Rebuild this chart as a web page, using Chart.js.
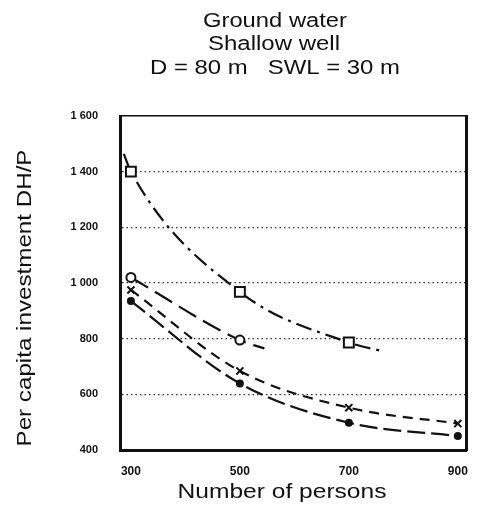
<!DOCTYPE html>
<html>
<head>
<meta charset="utf-8">
<script src="https://cdn.jsdelivr.net/npm/chart.js@4"></script>
<style>
  body { margin: 0; background: #fff; }
  #wrap { width: 477px; height: 513px; }
</style>
</head>
<body>
<div id="wrap"><canvas id="chart"></canvas></div>
<script>
// x ticks (number of persons)
const persons = [300, 500, 700, 900];

// curves; ends of the curves have no marker
const squareX = [287, 300, 500, 700, 762];
const squareY = [1464, 1400, 968, 786, 755];
const squareMark = [0, 1, 1, 1, 0];

const circleX = [300, 500, 545];
const circleY = [1020, 795, 765];
const circleMark = [1, 1, 0];

const crossX = [300, 500, 700, 900];
const crossY = [975, 684, 552, 495];

const dotX = [300, 500, 700, 900];
const dotY = [935, 639, 498, 450];

const headerLines = ['Ground water', 'Shallow well', 'D = 80 m   SWL = 30 m'];

function pts(xs, ys) {
    return xs.map((x, i) => ({x: x, y: ys[i]}));
}

// draws text stretched to the width seen in the scan
function fitText(ctx, text, cx, cy, width, font, rot) {
    ctx.save();
    ctx.font = font;
    ctx.fillStyle = '#111';
    ctx.textAlign = 'center';
    ctx.textBaseline = 'middle';
    ctx.translate(cx, cy);
    if (rot) ctx.rotate(rot);
    const w = ctx.measureText(text).width;
    ctx.scale(width / w, 1);
    ctx.fillText(text, 0, 0);
    ctx.restore();
}

const textPlugin = {
    id: 'scanText',
    afterDraw(chart) {
        const ctx = chart.ctx;
        const f = '20px "Liberation Sans", Arial, sans-serif';
        fitText(ctx, headerLines[0], 275, 21, 144, f);
        fitText(ctx, headerLines[1], 274, 44, 132, f);
        fitText(ctx, headerLines[2], 275, 68, 250, f);
        fitText(ctx, 'Number of persons', 282, 492, 209, f);
        fitText(ctx, 'Per capita investment DH/P', 25, 298, 297, f, -Math.PI / 2);
    }
};

const line = {
    borderColor: '#111',
    backgroundColor: '#111',
    borderWidth: 2.2,
    cubicInterpolationMode: 'monotone',
    pointBorderWidth: 2,
    fill: false
};

new Chart(document.getElementById('chart'), {
    type: 'line',
    data: {
        datasets: [
            Object.assign({}, line, {
                data: pts(squareX, squareY),
                borderDash: [16, 6, 3, 6],
                pointStyle: 'rect',
                pointRadius: squareMark.map(m => m ? 7 : 0),
                pointBackgroundColor: '#fff'
            }),
            Object.assign({}, line, {
                data: pts(circleX, circleY),
                borderDash: [20, 8],
                pointStyle: 'circle',
                pointRadius: circleMark.map(m => m ? 4.5 : 0),
                pointBackgroundColor: '#fff'
            }),
            Object.assign({}, line, {
                data: pts(crossX, crossY),
                borderDash: [10, 7],
                pointStyle: 'crossRot',
                pointRadius: 5
            }),
            Object.assign({}, line, {
                data: pts(dotX, dotY),
                borderDash: [18, 6],
                pointStyle: 'circle',
                pointRadius: 3,
                pointBackgroundColor: '#111'
            })
        ]
    },
    options: {
        responsive: true,
        maintainAspectRatio: false,
        animation: false,
        layout: { padding: { top: 116, right: 11, left: 0, bottom: 0 } },
        plugins: {
            legend: { display: false },
            tooltip: { enabled: false }
        },
        scales: {
            x: {
                type: 'linear',
                min: 280,
                max: 915,
                afterBuildTicks: s => { s.ticks = persons.map(v => ({value: v})); },
                afterFit: s => { s.height = 63; },
                grid: { display: false },
                border: { display: true, color: '#111', width: 3 },
                ticks: {
                    color: '#111',
                    padding: 6,
                    font: { family: '"Liberation Sans", Arial, sans-serif', size: 12, weight: 'bold' }
                }
            },
            xTop: {
                type: 'linear',
                position: 'top',
                min: 280,
                max: 915,
                afterFit: s => { s.height = 0; },
                grid: { display: false },
                ticks: { display: false },
                border: { display: true, color: '#111', width: 1.5 }
            },
            y: {
                min: 400,
                max: 1600,
                afterFit: s => { s.width = 120; },
                grid: {
                    drawTicks: false,
                    lineWidth: 1.3,
                    color: c => (c.tick && c.tick.value > 400 && c.tick.value < 1600) ? '#333' : 'rgba(0,0,0,0)'
                },
                border: { display: true, color: '#111', width: 3, dash: [1.5, 3] },
                ticks: {
                    stepSize: 200,
                    color: '#111',
                    padding: 22,
                    font: { family: '"Liberation Sans", Arial, sans-serif', size: 11, weight: 'bold' },
                    callback: v => v >= 1000 ? String(v).replace(/(\d)(\d{3})$/, '$1 $2') : String(v)
                }
            },
            yRight: {
                position: 'right',
                min: 400,
                max: 1600,
                afterFit: s => { s.width = 0; },
                grid: { display: false },
                ticks: { display: false },
                border: { display: true, color: '#111', width: 3 }
            }
        }
    },
    plugins: [textPlugin]
});
</script>
</body>
</html>
